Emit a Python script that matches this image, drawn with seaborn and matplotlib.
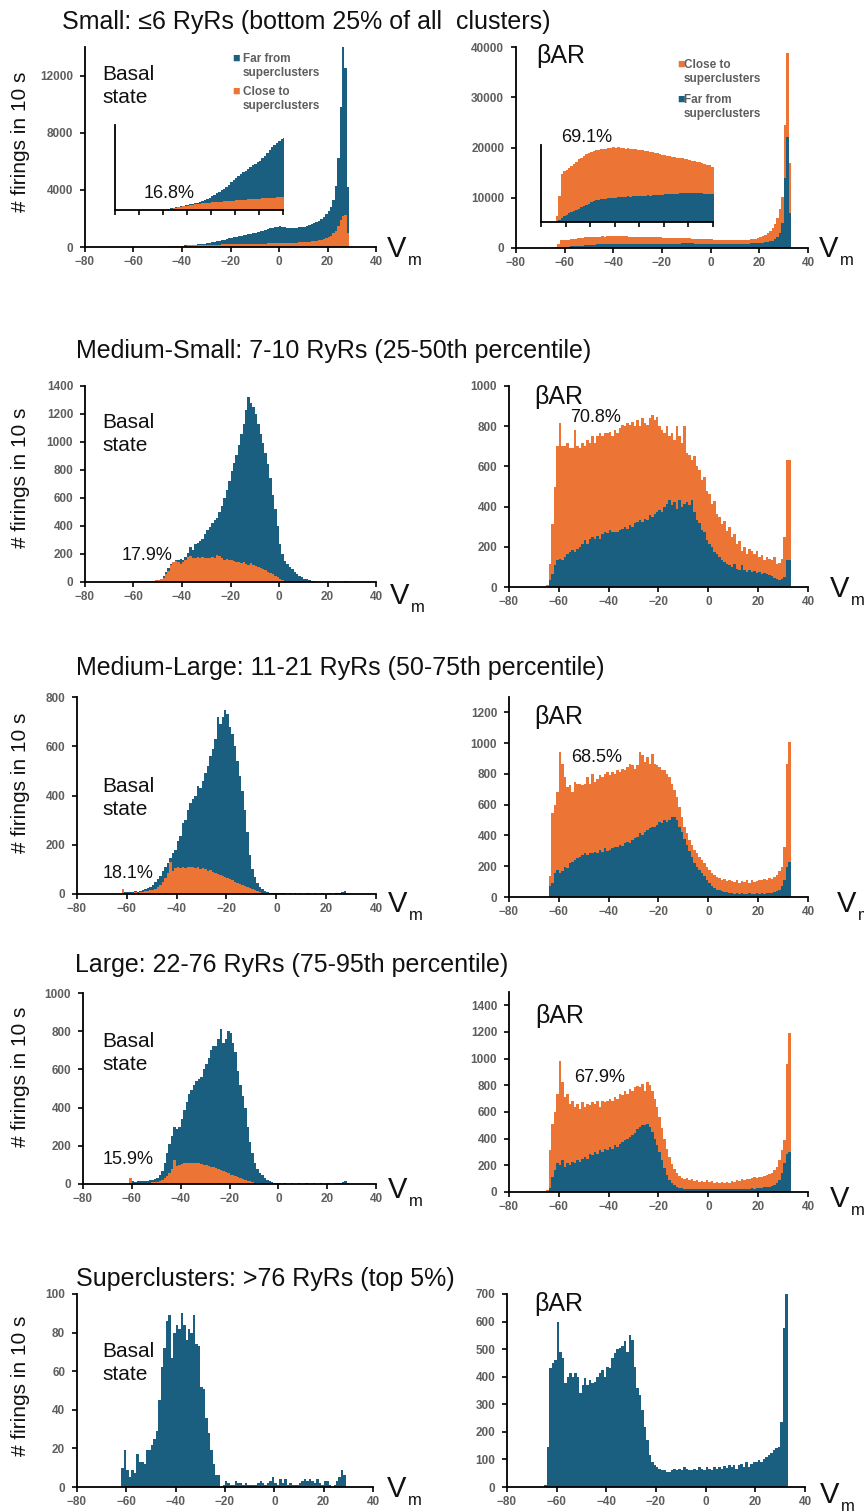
import numpy as np
import pandas as pd
import matplotlib
matplotlib.use("Agg")
import matplotlib.pyplot as plt
import seaborn as sns

# ---------------- data (1 mV bins; *_start = left edge of first bin) ----------------
V_TICKS = [-80, -60, -40, -20, 0, 20, 40]
INSET_TICKS = [-70, -60, -50, -40, -30, -20, -10, 0]

row_titles = ["Small: \u22646 RyRs (bottom 25% of all  clusters)",
              "Medium-Small: 7-10 RyRs (25-50th percentile)",
              "Medium-Large: 11-21 RyRs (50-75th percentile)",
              "Large: 22-76 RyRs (75-95th percentile)",
              "Superclusters: >76 RyRs (top 5%)"]
basal_pct = ["16.8%", "17.9%", "18.1%", "15.9%"]
bar_pct = ["69.1%", "70.8%", "68.5%", "67.9%"]
legend_far = "Far from\nsuperclusters"
legend_close = "Close to\nsuperclusters"

# Small clusters, basal (total = far + close, close drawn in front)
small_basal_start = -48
small_basal_total = [20, 35, 45, 55, 65, 75, 85, 95, 105, 115,
                     125, 135, 148, 160, 178, 195, 218, 240, 275, 305,
                     340, 370, 400, 430, 470, 505, 560, 600, 640, 680,
                     720, 770, 790, 830, 870, 900, 930, 970, 990, 1040,
                     1090, 1140, 1200, 1255, 1300, 1350, 1390, 1430, 1450, 1420,
                     1380, 1350, 1340, 1330, 1340, 1360, 1380, 1400, 1430, 1470,
                     1520, 1580, 1650, 1730, 1830, 1950, 2100, 2280, 2500, 2800,
                     3300, 4300, 6200, 9800, 14000, 12500, 4200]
small_basal_close = [15, 30, 40, 50, 58, 66, 74, 82, 90, 98,
                     106, 114, 120, 128, 134, 140, 145, 150, 152, 158,
                     160, 165, 170, 172, 178, 180, 186, 190, 195, 200,
                     203, 206, 210, 212, 215, 218, 222, 225, 228, 232,
                     235, 240, 242, 246, 250, 254, 258, 262, 265, 270,
                     275, 280, 285, 290, 300, 310, 320, 330, 340, 355,
                     370, 390, 410, 440, 470, 510, 560, 620, 700, 800,
                     950, 1150, 1450, 1900, 2200, 2250, 1000]
# Small clusters, betaAR (total, far drawn in front)
small_bar_start = -64
small_bar_total = [200, 800, 1500, 1600, 1620, 1680, 1740, 1800, 1880, 1950,
                   2000, 2060, 2110, 2150, 2180, 2200, 2230, 2250, 2270, 2290,
                   2280, 2300, 2310, 2330, 2320, 2330, 2310, 2300, 2290, 2300,
                   2280, 2260, 2270, 2250, 2240, 2230, 2200, 2210, 2180, 2170,
                   2150, 2160, 2120, 2100, 2080, 2070, 2050, 2040, 2020, 2010,
                   1990, 1980, 1960, 1950, 1930, 1910, 1890, 1870, 1860, 1840,
                   1810, 1790, 1770, 1720, 1700, 1680, 1660, 1640, 1620, 1600,
                   1590, 1580, 1570, 1560, 1560, 1570, 1580, 1600, 1630, 1670,
                   1720, 1790, 1880, 2000, 2150, 2350, 2600, 2900, 3300, 3900,
                   4800, 6000, 7800, 10200, 24500, 38800, 17000]
small_bar_far = [0, 60, 120, 180, 230, 270, 310, 340, 380, 420,
                 460, 490, 530, 570, 610, 640, 680, 700, 710, 720,
                 730, 740, 745, 750, 760, 770, 780, 775, 790, 800,
                 790, 800, 810, 805, 815, 820, 815, 830, 825, 835,
                 840, 835, 850, 845, 860, 860, 870, 865, 880, 885,
                 890, 895, 900, 905, 900, 905, 900, 895, 890, 890,
                 880, 875, 870, 870, 860, 850, 845, 840, 835, 830,
                 830, 825, 825, 830, 835, 840, 850, 860, 870, 885,
                 900, 920, 950, 980, 1020, 1070, 1130, 1200, 1300, 1450,
                 1700, 2100, 3000, 5000, 14000, 22000, 7000]

# Medium-small
msmall_basal_start = -60
msmall_basal_total = [5, 6, 5, 7, 6, 8, 7, 8, 10, 12,
                      15, 22, 40, 70, 100, 130, 145, 160, 155, 165,
                      160, 180, 210, 250, 230, 270, 280, 290, 310, 340,
                      370, 390, 420, 440, 460, 500, 540, 600, 660, 720,
                      790, 850, 910, 980, 1060, 1130, 1230, 1320, 1280, 1250,
                      1200, 1130, 1060, 990, 920, 840, 740, 620, 520, 400,
                      270, 200, 150, 130, 110, 90, 70, 55, 45, 35,
                      25, 18, 12, 8, 5, 3, 2, 2, 1, 1,
                      1, 1, 1, 1, 1, 1, 1, 5, 8]
msmall_basal_close = [5, 6, 5, 7, 6, 8, 7, 8, 10, 12,
                      15, 20, 30, 55, 80, 120, 140, 150, 145, 130,
                      140, 160, 180, 185, 170, 175, 180, 175, 180, 170,
                      175, 170, 180, 175, 190, 185, 170, 160, 165, 155,
                      160, 150, 140, 145, 135, 140, 130, 125, 135, 120,
                      115, 110, 100, 95, 85, 75, 65, 55, 45, 35,
                      25, 15, 8, 5, 3, 2, 1, 1, 1, 1,
                      0, 0, 0, 0, 0, 0, 0, 0, 0, 0,
                      0, 0, 0, 0, 0, 0, 0, 5, 8]
msmall_bar_start = -65
msmall_bar_total = [8, 116, 315, 500, 700, 815, 700, 700, 715, 690,
                    690, 780, 700, 690, 715, 700, 730, 715, 750, 715,
                    750, 765, 750, 765, 765, 770, 750, 780, 765, 790,
                    805, 800, 815, 805, 820, 800, 830, 800, 840, 815,
                    805, 840, 855, 830, 845, 800, 780, 765, 800, 750,
                    765, 730, 800, 750, 715, 800, 665, 655, 630, 650,
                    600, 580, 530, 545, 480, 465, 415, 430, 365, 350,
                    315, 330, 280, 300, 250, 265, 215, 230, 180, 200,
                    165, 190, 180, 165, 180, 150, 160, 135, 150, 140,
                    135, 150, 115, 120, 140, 250, 630, 630]
msmall_bar_far = [0, 33, 66, 108, 133, 140, 133, 150, 166, 175,
                  183, 175, 191, 200, 216, 233, 216, 241, 250, 241,
                  252, 241, 266, 274, 269, 282, 274, 274, 274, 282,
                  291, 299, 291, 307, 299, 316, 324, 332, 324, 340,
                  332, 357, 349, 365, 374, 382, 374, 399, 415, 432,
                  407, 424, 390, 432, 399, 415, 424, 407, 432, 374,
                  332, 316, 282, 274, 233, 216, 200, 175, 166, 150,
                  133, 125, 116, 108, 100, 116, 91, 83, 108, 83,
                  75, 83, 75, 80, 70, 75, 66, 70, 63, 58,
                  53, 46, 42, 33, 42, 50, 133, 133]

# Medium-large
mlarge_basal_start = -62
mlarge_basal_total = [20, 8, 10, 8, 10, 12, 10, 14, 16, 19,
                      23, 30, 37, 48, 60, 75, 95, 110, 125, 145,
                      165, 180, 215, 235, 290, 300, 340, 370, 385, 400,
                      440, 430, 460, 490, 520, 560, 590, 630, 720, 690,
                      720, 748, 730, 680, 650, 600, 540, 480, 420, 340,
                      250, 160, 100, 70, 45, 30, 20, 14, 9, 6,
                      5, 4, 4, 3, 3, 3, 2, 3, 2, 3,
                      2, 3, 2, 2, 3, 2, 2, 3, 2, 2,
                      3, 2, 2, 3, 2, 3, 4, 6, 10, 12, 6]
mlarge_basal_close = [20, 5, 6, 5, 6, 8, 6, 8, 10, 12,
                      14, 16, 18, 22, 28, 38, 50, 65, 85, 130,
                      95, 105, 110, 105, 110, 105, 110, 108, 110, 105,
                      108, 100, 105, 100, 95, 98, 90, 85, 80, 78,
                      75, 70, 65, 60, 57, 50, 45, 40, 36, 33,
                      30, 25, 22, 18, 12, 8, 4, 2, 1, 0,
                      0, 0, 0, 0, 0, 0, 0, 0, 0, 0,
                      0, 0, 0, 0, 0, 0, 0, 0, 0, 0,
                      0, 0, 0, 0, 0, 0, 0, 0, 3, 2, 0]
mlarge_bar_start = -64
mlarge_bar_total = [134, 543, 597, 683, 941, 866, 780, 715, 726, 683,
                    748, 737, 732, 726, 737, 780, 737, 801, 748, 769,
                    790, 780, 801, 812, 790, 812, 801, 823, 812, 833,
                    823, 844, 866, 855, 833, 855, 941, 920, 877, 909,
                    866, 931, 866, 855, 844, 823, 823, 801, 780, 737,
                    694, 650, 586, 521, 457, 414, 370, 338, 306, 284,
                    263, 241, 220, 198, 177, 155, 144, 129, 123, 108,
                    116, 101, 108, 101, 95, 108, 90, 101, 95, 108,
                    90, 108, 95, 101, 112, 108, 116, 112, 123, 116,
                    129, 144, 166, 198, 327, 866, 1006]
mlarge_bar_far = [69, 90, 155, 177, 155, 166, 198, 187, 220, 230,
                  241, 252, 263, 274, 284, 274, 284, 289, 295, 284,
                  306, 295, 317, 301, 306, 317, 327, 323, 338, 331,
                  349, 360, 353, 370, 381, 392, 414, 403, 424, 435,
                  446, 457, 457, 467, 489, 478, 500, 489, 500, 521,
                  517, 500, 457, 420, 380, 340, 300, 260, 224, 198,
                  177, 155, 134, 112, 90, 73, 58, 47, 43, 37,
                  30, 30, 26, 26, 22, 26, 22, 24, 20, 22,
                  24, 22, 20, 24, 22, 25, 22, 24, 26, 26,
                  30, 37, 47, 69, 112, 198, 230]

# Large
large_basal_start = -61
large_basal_total = [30, 15, 12, 14, 15, 14, 16, 18, 20, 22,
                     25, 30, 45, 70, 110, 160, 210, 250, 300, 290,
                     300, 340, 390, 430, 470, 490, 520, 540, 550, 560,
                     600, 630, 660, 700, 720, 720, 760, 810, 740, 760,
                     800, 790, 740, 690, 590, 520, 460, 400, 300, 220,
                     160, 110, 80, 60, 45, 30, 22, 15, 10, 7,
                     5, 3, 2, 3, 2, 2, 3, 2, 2, 3,
                     2, 2, 3, 2, 2, 3, 2, 2, 3, 2,
                     2, 3, 2, 2, 3, 4, 6, 10, 14, 6]
large_basal_close = [30, 5, 4, 5, 4, 5, 6, 5, 6, 8,
                     10, 12, 16, 22, 30, 40, 60, 80, 125, 95,
                     100, 105, 108, 110, 112, 110, 112, 108, 110, 105,
                     100, 100, 95, 90, 88, 85, 80, 75, 70, 62,
                     55, 48, 45, 40, 35, 30, 26, 22, 18, 14,
                     10, 7, 5, 3, 2, 1, 1, 0, 0, 0,
                     0, 0, 0, 0, 0, 0, 0, 0, 0, 0,
                     0, 0, 0, 0, 0, 0, 0, 0, 0, 0,
                     0, 0, 0, 0, 0, 0, 0, 2, 3, 0]
large_bar_start = -65
large_bar_total = [15, 313, 512, 600, 736, 985, 823, 711, 736, 662,
                   686, 637, 662, 625, 674, 637, 662, 649, 674, 662,
                   686, 637, 686, 674, 686, 699, 686, 711, 699, 736,
                   724, 761, 736, 773, 761, 786, 798, 786, 810, 761,
                   823, 800, 760, 700, 640, 560, 480, 400, 320, 260,
                   210, 170, 140, 120, 105, 100, 102, 90, 95, 85,
                   90, 77, 85, 77, 90, 77, 85, 70, 77, 65,
                   77, 70, 77, 65, 85, 77, 90, 85, 95, 90,
                   100, 95, 102, 109, 102, 114, 109, 119, 127, 134,
                   139, 164, 189, 239, 313, 388, 960, 1196]
large_bar_far = [0, 27, 114, 164, 214, 201, 239, 189, 214, 201,
                 226, 214, 239, 226, 251, 264, 251, 288, 276, 301,
                 288, 313, 301, 326, 313, 338, 326, 351, 338, 363,
                 376, 388, 400, 413, 425, 440, 470, 490, 500, 500,
                 510, 490, 450, 400, 350, 300, 240, 180, 130, 90,
                 65, 50, 40, 32, 28, 25, 24, 22, 24, 22,
                 20, 22, 20, 22, 20, 22, 20, 22, 20, 22,
                 20, 22, 24, 22, 20, 22, 24, 22, 25, 24,
                 26, 25, 28, 26, 30, 28, 32, 35, 38, 40,
                 45, 52, 65, 90, 139, 214, 288, 301]

# Superclusters (single series)
super_basal_start = -62
super_basal = [10, 19, 9, 5, 9, 7, 17, 13, 13, 12,
               19, 19, 22, 25, 29, 45, 62, 72, 86, 89,
               67, 80, 84, 82, 90, 84, 76, 82, 80, 89,
               74, 73, 52, 51, 36, 28, 19, 12, 6, 6,
               0, 1, 3, 2, 1, 1, 3, 2, 2, 1,
               2, 1, 1, 1, 1, 2, 3, 2, 1, 2,
               3, 5, 2, 1, 4, 2, 4, 1, 2, 1,
               1, 1, 2, 3, 4, 3, 4, 3, 2, 4,
               2, 1, 3, 3, 1, 0, 1, 3, 5, 9, 6]
super_bar_start = -65
super_bar = [6, 146, 431, 449, 461, 600, 491, 467, 376, 400,
             412, 400, 412, 400, 340, 370, 394, 370, 388, 376,
             382, 400, 412, 425, 400, 437, 431, 467, 485, 500,
             505, 510, 530, 490, 552, 534, 437, 358, 334, 279,
             218, 170, 115, 91, 79, 73, 67, 63, 61, 55,
             55, 61, 67, 61, 67, 61, 73, 67, 63, 61,
             67, 61, 73, 67, 61, 73, 67, 61, 73, 67,
             73, 67, 75, 70, 79, 73, 79, 67, 79, 85,
             73, 91, 73, 85, 91, 91, 97, 91, 103, 110,
             115, 125, 135, 140, 145, 237, 576, 700]

# ---------------- style ----------------
BLUE = "#1A5E80"
ORANGE = "#EC7434"
GRAY = "#5E5E5E"

sns.set_theme(style="ticks")
plt.rcParams["font.family"] = ["Liberation Sans", "DejaVu Sans"]
plt.rcParams["axes.linewidth"] = 1.3

W, H = 864, 1511
fig = plt.figure(figsize=(W / 100, H / 100), dpi=100)


def ax_px(l, r, t, b):
    return fig.add_axes([l / W, 1 - b / H, (r - l) / W, (b - t) / H])


def txt(x, y, s, **kw):
    return fig.text(x / W, 1 - y / H, s, **kw)


def layer(ax, start, counts, color):
    n = len(counts)
    df = pd.DataFrame({"v": np.arange(start, start + n) + 0.5,
                       "n": np.asarray(counts, dtype=float)})
    sns.histplot(data=df, x="v", weights="n", bins=n, binrange=(start, start + n),
                 element="step", fill=True, color=color, alpha=1, linewidth=0, ax=ax)


def style_main(ax, ymax, ystep):
    ax.set_xlim(-80, 40)
    ax.set_ylim(0, ymax)
    ax.set_xticks(V_TICKS)
    ax.set_yticks(np.arange(0, ymax + 1, ystep))
    ax.set_xlabel("")
    ax.set_ylabel("")
    sns.despine(ax=ax)
    for s in ("left", "bottom"):
        ax.spines[s].set_color("black")
        ax.spines[s].set_linewidth(1.3)
    ax.tick_params(direction="out", length=3.5, width=1.2, color="black",
                   labelsize=8.5, labelcolor=GRAY)
    ax.tick_params(axis="x", pad=3)
    ax.tick_params(axis="y", pad=5)
    for lab in ax.get_xticklabels() + ax.get_yticklabels():
        lab.set_fontweight("bold")
    ax.patch.set_alpha(0)


def style_inset(ax, ymax):
    ax.set_xlim(-70, 0)
    ax.set_ylim(0, ymax)
    ax.set_xticks(INSET_TICKS)
    ax.set_yticks([])
    ax.set_xticklabels([])
    ax.set_xlabel("")
    ax.set_ylabel("")
    sns.despine(ax=ax)
    for s in ("left", "bottom"):
        ax.spines[s].set_color("black")
        ax.spines[s].set_linewidth(1.3)
    ax.tick_params(axis="x", direction="out", length=3.5, width=1.2, color="black")
    ax.patch.set_alpha(0)


rows = [
    dict(L=(85, 376, 47, 247), R=(516, 808, 47, 248), yl=(14000, 4000), yr=(40000, 10000),
         bL=(small_basal_start, small_basal_total, small_basal_close),
         bR=(small_bar_start, small_bar_total, small_bar_far)),
    dict(L=(85, 376, 386, 582), R=(509, 808, 386, 587), yl=(1400, 200), yr=(1000, 200),
         bL=(msmall_basal_start, msmall_basal_total, msmall_basal_close),
         bR=(msmall_bar_start, msmall_bar_total, msmall_bar_far)),
    dict(L=(77, 376, 697, 894), R=(509, 808, 697, 897), yl=(800, 200), yr=(1300, 200),
         bL=(mlarge_basal_start, mlarge_basal_total, mlarge_basal_close),
         bR=(mlarge_bar_start, mlarge_bar_total, mlarge_bar_far)),
    dict(L=(83, 376, 993, 1184), R=(509, 808, 992, 1192), yl=(1000, 200), yr=(1500, 200),
         bL=(large_basal_start, large_basal_total, large_basal_close),
         bR=(large_bar_start, large_bar_total, large_bar_far)),
    dict(L=(77, 373, 1294, 1487), R=(507, 805, 1294, 1487), yl=(100, 20), yr=(700, 100),
         bL=None, bR=None),
]

for i, rw in enumerate(rows):
    axL = ax_px(*rw["L"])
    axR = ax_px(*rw["R"])
    if rw["bL"] is not None:
        st, tot, front = rw["bL"]
        layer(axL, st, tot, BLUE)
        layer(axL, st, front, ORANGE)
        st, tot, front = rw["bR"]
        layer(axR, st, tot, ORANGE)
        layer(axR, st, front, BLUE)
    else:
        layer(axL, super_basal_start, super_basal, BLUE)
        layer(axR, super_bar_start, super_bar, BLUE)
    style_main(axL, *rw["yl"])
    style_main(axR, *rw["yr"])

# insets (first row)
insL = ax_px(115, 283, 125, 210)
layer(insL, small_basal_start, small_basal_total, BLUE)
layer(insL, small_basal_start, small_basal_close, ORANGE)
style_inset(insL, 1700)
insR = ax_px(541, 713, 145, 222)
layer(insR, small_bar_start, small_bar_total, ORANGE)
layer(insR, small_bar_start, small_bar_far, BLUE)
style_inset(insR, 2400)

# row titles
title_pos = [(62, 29), (76, 358), (76, 675), (75, 972), (76, 1286)]
for (x, y), t in zip(title_pos, row_titles):
    txt(x, y, t, fontsize=18, va="baseline", ha="left", color="#111111")

# y-axis labels
for yc in [142, 478, 783, 1077, 1386]:
    txt(21, yc, "# firings in 10 s", fontsize=15, rotation=90, ha="center", va="center",
        color="#111111")

# condition labels
for x, y in [(102, 65), (102, 413), (102, 777), (102, 1032), (102, 1342)]:
    txt(x, y, "Basal\nstate", fontsize=15, va="top", ha="left", linespacing=1.25,
        color="#111111")
for x, y in [(536, 44), (534, 385), (534, 705), (535, 1004), (534, 1292)]:
    txt(x, y, "\u03b2AR", fontsize=18, va="top", ha="left", color="#111111")

# percentages
for (x, y), s in zip([(169, 194), (147, 555), (128, 874), (128, 1160)], basal_pct):
    txt(x, y, s, fontsize=13, ha="center", va="center", color="#111111")
for (x, y), s in zip([(587, 137), (596, 418), (597, 757), (600, 1077)], bar_pct):
    txt(x, y, s, fontsize=13, ha="center", va="center", color="#111111")

# V_m labels (V with subscript m)
for x, y in [(387, 257), (819, 257), (390, 604), (830, 597), (388, 912), (837, 912),
             (388, 1198), (830, 1207), (387, 1497), (820, 1503)]:
    txt(x, y, "V", fontsize=21, ha="left", va="baseline", color="#111111")
    txt(x + 21, y + 8, "m", fontsize=12, ha="left", va="baseline", color="#111111")


def legend_entry(xs, xt, y1, color, label):
    txt(xs, y1, "\u25a0", fontsize=9, color=color, ha="left", va="center")
    txt(xt, y1 + 7, label, fontsize=8.5, fontweight="bold", color=GRAY, ha="left",
        va="center", linespacing=1.2)


legend_entry(232, 243, 59, BLUE, legend_far)
legend_entry(232, 243, 92, ORANGE, legend_close)
legend_entry(677, 684, 65, ORANGE, legend_close)
legend_entry(677, 684, 100, BLUE, legend_far)

fig.savefig("out.png", dpi=100)
